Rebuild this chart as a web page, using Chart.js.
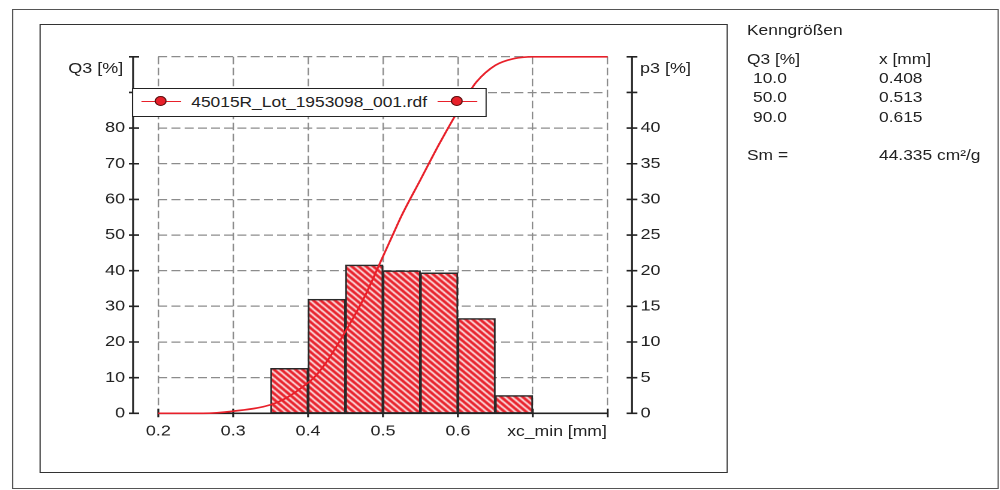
<!DOCTYPE html>
<html>
<head>
<meta charset="utf-8">
<script src="https://cdn.jsdelivr.net/npm/chart.js@4.4.0/dist/chart.umd.min.js"></script>
<style>
  html, body { margin: 0; padding: 0; background: #fff; }
  body { width: 1000px; height: 490px; overflow: hidden; font-family: 'Liberation Sans', Arial, sans-serif; color: #222; }
  /* the reference is stretched horizontally, so the page is laid out 834 wide and scaled */
  #page { position: absolute; left: 0; top: 0; width: 834px; height: 490px; transform: scaleX(1.199); transform-origin: 0 0; }
  #chart { position: absolute; left: 0; top: 0; }
  .box { position: absolute; box-sizing: border-box; }
  #outer { left: 10px; top: 9.2px; width: 823px; height: 479.6px; border: 1.6px solid #555; }
  #inner { left: 32.6px; top: 24.2px; width: 574.5px; height: 448.6px; border: 1.6px solid #333; }
  .txt { position: absolute; font-size: 14.5px; line-height: 14.5px; white-space: pre; }
  .axt { position: absolute; font-size: 15px; line-height: 15px; white-space: pre; }
  #legend { left: 110.1px; top: 87.7px; width: 296px; height: 29.3px; border: 1.6px solid #222; background: #fff; }
  .lline { position: absolute; top: 12px; height: 1.5px; width: 33.4px; background: #e8202a; }
  .ldot { position: absolute; top: 7.6px; width: 10px; height: 10px; border-radius: 50%; background: #e8202a; box-sizing: border-box; border: 1px solid #5a1010; }
  #xtitle { position: absolute; top: 424.2px; right: 327.8px; font-size: 14.7px; line-height: 14.5px; white-space: pre; }
</style>
</head>
<body>
<div id="page">
  <div id="outer" class="box"></div>
  <div id="inner" class="box"></div>
  <canvas id="chart" width="834" height="490"></canvas>

  <div id="legend" class="box">
    <div class="lline" style="left:6.7px"></div>
    <div class="ldot" style="left:18.4px"></div>
    <div class="txt" style="left:48.4px; top:5.9px">45015R_Lot_1953098_001.rdf</div>
    <div class="lline" style="left:253.6px"></div>
    <div class="ldot" style="left:265.3px"></div>
  </div>
  <div id="xtitle">xc_min [mm]</div>
  <div class="axt" style="right:731.2px; top:60px">Q3 [%]</div>
  <div class="axt" style="left:533.8px; top:60px">p3 [%]</div>

  <div class="txt" style="left:623px; top:22.7px">Kenngrößen</div>
  <div class="txt" style="left:623px; top:51.7px">Q3 [%]</div>
  <div class="txt" style="left:733.1px; top:51.7px">x [mm]</div>
  <div class="txt" style="left:628px; top:70.7px">10.0</div>
  <div class="txt" style="left:733.1px; top:70.7px">0.408</div>
  <div class="txt" style="left:628px; top:89.7px">50.0</div>
  <div class="txt" style="left:733.1px; top:89.7px">0.513</div>
  <div class="txt" style="left:628px; top:109.7px">90.0</div>
  <div class="txt" style="left:733.1px; top:109.7px">0.615</div>
  <div class="txt" style="left:623px; top:147.7px">Sm =</div>
  <div class="txt" style="left:733.1px; top:147.7px">44.335 cm²/g</div>
</div>

<script>
// histogram p3 [%] per 0.05 mm class (class centres)
const binCenters = [0.375, 0.425, 0.475, 0.525, 0.575, 0.625, 0.675];
const p3Values = [6.3, 16.0, 20.8, 20.0, 19.7, 13.3, 2.5];

// cumulative curve Q3 [%]
const q3Sizes = [0.20, 0.26, 0.30, 0.35, 0.375, 0.40, 0.408, 0.425, 0.45, 0.475, 0.50, 0.513,
                 0.525, 0.55, 0.575, 0.60, 0.615, 0.625, 0.65, 0.675, 0.70, 0.80];
const q3Values = [0, 0, 0.6, 2.4, 4.8, 8.6, 10, 14.5, 23, 32.5, 44, 50,
                  55.5, 65.5, 75.5, 84.8, 90, 93, 97.6, 99.5, 100, 100];

// tick labels (the top ones carry the axis names, drawn as text above)
const xTickValues = [0.2, 0.3, 0.4, 0.5, 0.6, 0.7, 0.8];
const xTickLabels = ['0.2', '0.3', '0.4', '0.5', '0.6', '', ''];
const q3TickLabels = ['0', '10', '20', '30', '40', '50', '60', '70', '80', '', ''];
const p3TickLabels = ['0', '5', '10', '15', '20', '25', '30', '35', '40', '', ''];

const RED = '#e8202a';
const INK = '#222';
const GRID = '#8c8c8c';
const tickFont = { family: "'Liberation Sans', Arial, sans-serif", size: 15 };

function hatchPattern() {
    const c = document.createElement('canvas');
    c.width = 6; c.height = 6;
    const g = c.getContext('2d');
    g.fillStyle = RED;
    g.fillRect(0, 0, 6, 6);
    g.strokeStyle = '#fff';
    g.lineWidth = 1.5;
    g.beginPath();
    g.moveTo(-3, -3); g.lineTo(9, 9);
    g.moveTo(-3, 3); g.lineTo(3, 9);
    g.moveTo(3, -3); g.lineTo(9, 3);
    g.stroke();
    return g.createPattern(c, 'repeat');
}

function ticksFrom(labels, step) {
    return function(scale) {
        scale.ticks = labels.map((l, i) => ({ value: i * step }));
    };
}

// solid axis lines with crossing tick marks, placed off the plot like the original
const axisLines = {
    id: 'axisLines',
    beforeDatasetsDraw(chart) {
        const ctx = chart.ctx;
        const area = chart.chartArea;
        const x = chart.scales.x, yL = chart.scales.yL, yR = chart.scales.yR;
        const xL = area.left - 21, xR = area.right + 20.3;
        const y0 = yL.getPixelForValue(0);
        ctx.save();
        ctx.strokeStyle = INK;
        ctx.lineWidth = 1.6;
        ctx.beginPath();
        ctx.moveTo(xL, yL.getPixelForValue(0));
        ctx.lineTo(xL, yL.getPixelForValue(100));
        yL.ticks.forEach(t => {
            const p = yL.getPixelForValue(t.value);
            ctx.moveTo(xL - 3.5, p); ctx.lineTo(xL + 5, p);
        });
        ctx.moveTo(xR, yR.getPixelForValue(0));
        ctx.lineTo(xR, yR.getPixelForValue(50));
        yR.ticks.forEach(t => {
            const p = yR.getPixelForValue(t.value);
            ctx.moveTo(xR - 4.5, p); ctx.lineTo(xR + 4.5, p);
        });
        ctx.moveTo(x.getPixelForValue(0.2), y0);
        ctx.lineTo(x.getPixelForValue(0.8), y0);
        x.ticks.forEach(t => {
            const p = x.getPixelForValue(t.value);
            ctx.moveTo(p, y0 - 4.5); ctx.lineTo(p, y0 + 4);
        });
        ctx.stroke();
        ctx.restore();
    }
};

new Chart(document.getElementById('chart'), {
    type: 'bar',
    data: {
        datasets: [{
            type: 'line',
            label: '45015R_Lot_1953098_001.rdf',
            data: q3Sizes.map((s, i) => ({ x: s, y: q3Values[i] })),
            yAxisID: 'yL',
            borderColor: RED,
            borderWidth: 1.7,
            pointRadius: 0,
            cubicInterpolationMode: 'monotone',
            clip: 4,
            order: 0
        }, {
            type: 'bar',
            label: 'p3',
            data: binCenters.map((c, i) => ({ x: c, y: p3Values[i] })),
            yAxisID: 'yR',
            backgroundColor: hatchPattern(),
            borderColor: '#2a2a2a',
            borderWidth: 1.5,
            borderSkipped: false,
            barPercentage: 1,
            categoryPercentage: 1,
            order: 1
        }]
    },
    options: {
        responsive: false,
        animation: false,
        devicePixelRatio: 2,
        layout: { padding: { left: 20, right: 227.2, top: 56.8, bottom: 36.7 } },
        plugins: {
            legend: { display: false },
            tooltip: { enabled: false }
        },
        scales: {
            x: {
                type: 'linear',
                position: 'bottom',
                offset: false,
                min: 0.2,
                max: 0.8,
                afterBuildTicks: function(scale) {
                    scale.ticks = xTickValues.map(v => ({ value: v }));
                },
                ticks: {
                    callback: (v, i) => xTickLabels[i],
                    font: tickFont,
                    color: INK,
                    padding: 9,
                    maxRotation: 0,
                    autoSkip: false
                },
                grid: { color: GRID, lineWidth: 1.2, drawTicks: false, offset: false },
                border: { display: false, dash: [7.5, 3.5] },
                afterFit: function(scale) { scale.height = 40; }
            },
            yL: {
                type: 'linear',
                position: 'left',
                min: 0,
                max: 100,
                afterBuildTicks: ticksFrom(q3TickLabels, 10),
                ticks: {
                    callback: (v, i) => q3TickLabels[i],
                    font: tickFont,
                    color: INK,
                    padding: 27.7,
                    autoSkip: false
                },
                grid: { color: GRID, lineWidth: 1.2, drawTicks: false },
                border: { display: false, dash: [7.5, 3.5] },
                afterFit: function(scale) { scale.width = 112; }
            },
            yR: {
                type: 'linear',
                position: 'right',
                min: 0,
                max: 50,
                afterBuildTicks: ticksFrom(p3TickLabels, 5),
                ticks: {
                    callback: (v, i) => p3TickLabels[i],
                    font: tickFont,
                    color: INK,
                    padding: 27.4,
                    autoSkip: false
                },
                grid: { display: false, drawTicks: false },
                border: { display: false },
                afterFit: function(scale) { scale.width = 100; }
            }
        }
    },
    plugins: [axisLines]
});
</script>
</body>
</html>
